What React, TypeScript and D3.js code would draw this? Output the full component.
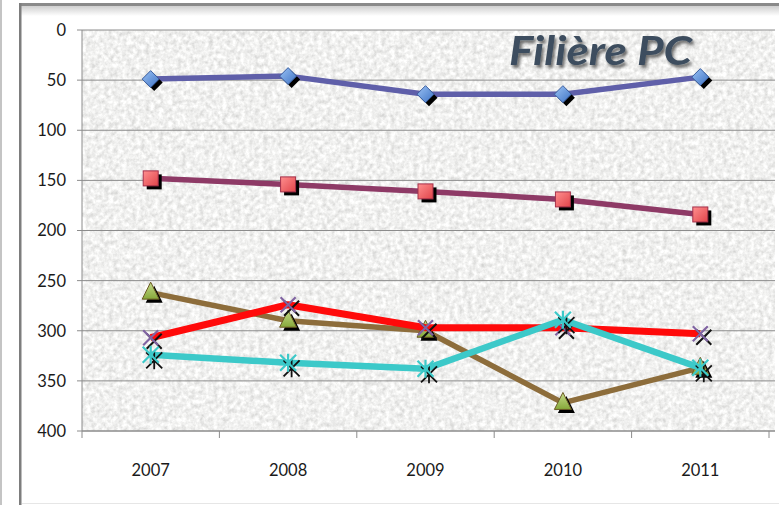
import React from "react";
import * as d3 from "d3";

const years = ["2007", "2008", "2009", "2010", "2011"];
const serieA = [49, 46, 64, 64, 47];
const serieB = [148, 154, 161, 169, 184];
const serieC = [262, 290, 300, 372, 337];
const serieD = [307, 274, 297, 297, 303];
const serieE = [324, 332, 338, 289, 337];
const yTicks = [0, 50, 100, 150, 200, 250, 300, 350, 400];
const title = "Filière PC";

const W = 779;
const H = 505;
const left = 82;
const right = 769;
const top = 30;
const bottom = 431;

type Marker = "diamond" | "square" | "triangle" | "x" | "star";
const series: { values: number[]; line: string; width: number; marker: Marker }[] = [
  { values: serieA, line: "#5F5FA9", width: 5.5, marker: "diamond" },
  { values: serieB, line: "#8E3A66", width: 5.5, marker: "square" },
  { values: serieC, line: "#8D6D3B", width: 5.5, marker: "triangle" },
  { values: serieD, line: "#FF0A0A", width: 7, marker: "x" },
  { values: serieE, line: "#3CC9C9", width: 6.5, marker: "star" },
];

function MarkerShape({ kind, cx, cy }: { kind: Marker; cx: number; cy: number }) {
  const so = 3.5;
  if (kind === "diamond") {
    const r = 8.5;
    const pts = (dx: number, dy: number) =>
      `${cx + dx},${cy - r + dy} ${cx + r + dx},${cy + dy} ${cx + dx},${cy + r + dy} ${cx - r + dx},${cy + dy}`;
    return (
      <g>
        <polygon points={pts(so, so)} fill="#000" />
        <polygon points={pts(0, 0)} fill="url(#gDiamond)" stroke="#3B5E9E" strokeWidth={1} />
      </g>
    );
  }
  if (kind === "square") {
    const s = 15;
    return (
      <g>
        <rect x={cx - s / 2 + so} y={cy - s / 2 + so} width={s} height={s} fill="#000" />
        <rect x={cx - s / 2} y={cy - s / 2} width={s} height={s} fill="url(#gSquare)" stroke="#A3304A" strokeWidth={1} />
      </g>
    );
  }
  if (kind === "triangle") {
    const w = 17;
    const h = 17;
    const pts = (dx: number, dy: number) =>
      `${cx + dx},${cy - h / 2 - 2 + dy} ${cx + w / 2 + dx},${cy + h / 2 - 2 + dy} ${cx - w / 2 + dx},${cy + h / 2 - 2 + dy}`;
    return (
      <g>
        <polygon points={pts(so, so)} fill="#000" />
        <polygon points={pts(0, 0)} fill="url(#gTri)" stroke="#6B5A25" strokeWidth={1} />
      </g>
    );
  }
  if (kind === "x") {
    const r = 7.5;
    const path = (dx: number, dy: number) =>
      `M${cx - r + dx},${cy - r + dy}L${cx + r + dx},${cy + r + dy}M${cx + r + dx},${cy - r + dy}L${cx - r + dx},${cy + r + dy}`;
    return (
      <g>
        <path d={path(so, so)} stroke="#111" strokeWidth={2} fill="none" />
        <path d={path(0, 0)} stroke="#8064A2" strokeWidth={2.2} fill="none" />
      </g>
    );
  }
  const r = 8;
  const path = (dx: number, dy: number) =>
    `M${cx - r + dx},${cy - r + dy}L${cx + r + dx},${cy + r + dy}M${cx + r + dx},${cy - r + dy}L${cx - r + dx},${cy + r + dy}M${cx + dx},${cy - r - 1 + dy}L${cx + dx},${cy + r + 1 + dy}`;
  return (
    <g>
      <path d={path(so, so + 2)} stroke="#111" strokeWidth={1.8} fill="none" />
      <path d={path(0, 0)} stroke="#3CC9C9" strokeWidth={2.2} fill="none" />
    </g>
  );
}

export default function App() {
  const x = d3.scaleBand<string>().domain(years).range([left, right]);
  const y = d3.scaleLinear().domain([0, 400]).range([top, bottom]);
  const cx = (yr: string) => (x(yr) as number) + x.bandwidth() / 2;
  const line = d3
    .line<number>()
    .x((_, i) => cx(years[i]))
    .y((v) => y(v));
  const bounds = [...years.map((yr) => x(yr) as number), right];

  return (
    <svg
      width={W}
      height={H}
      style={{ position: "absolute", left: 0, top: 0, background: "#fff" }}
      fontFamily="Lato, 'Open Sans', sans-serif"
    >
      <defs>
        <filter id="noise" x="0" y="0" width="100%" height="100%">
          <feTurbulence type="fractalNoise" baseFrequency="0.22" numOctaves={3} seed={4} />
          <feColorMatrix
            type="matrix"
            values="0.55 0 0 0 0.6  0.55 0 0 0 0.6  0.55 0 0 0 0.59  0 0 0 0 1"
          />
        </filter>
        <linearGradient id="gDiamond" x1="0" y1="0" x2="1" y2="1">
          <stop offset="0" stopColor="#9CC3F5" />
          <stop offset="1" stopColor="#3D72C4" />
        </linearGradient>
        <linearGradient id="gSquare" x1="0" y1="0" x2="1" y2="1">
          <stop offset="0" stopColor="#FF8F8F" />
          <stop offset="1" stopColor="#E0444A" />
        </linearGradient>
        <linearGradient id="gTri" x1="0" y1="0" x2="0" y2="1">
          <stop offset="0" stopColor="#C6DB8A" />
          <stop offset="1" stopColor="#86A83A" />
        </linearGradient>
        <linearGradient id="topShade" x1="0" y1="0" x2="0" y2="1">
          <stop offset="0" stopColor="#cfcfcf" />
          <stop offset="1" stopColor="#ffffff" />
        </linearGradient>
        <filter id="tshadow" x="-10%" y="-20%" width="130%" height="150%">
          <feGaussianBlur in="SourceAlpha" stdDeviation="1.5" />
          <feOffset dx="2" dy="2.5" result="b" />
          <feComponentTransfer>
            <feFuncA type="linear" slope="0.55" />
          </feComponentTransfer>
          <feMerge>
            <feMergeNode />
            <feMergeNode in="SourceGraphic" />
          </feMerge>
        </filter>
      </defs>

      {/* frame */}
      <rect x={0} y={0} width={2} height={H} fill="#c4c4c4" />
      <rect x={20} y={6} width={W - 20} height={10} fill="url(#topShade)" />
      <rect x={19} y={3} width={W - 19} height={3} fill="#8a8a8a" />
      <rect x={19} y={3} width={2.5} height={H} fill="#7d7d7d" />
      <rect x={22} y={H - 2} width={W - 22} height={1} fill="#e6e6e6" />

      {/* plot background */}
      <rect x={left} y={top} width={775 - left} height={bottom - top} filter="url(#noise)" />

      {/* gridlines */}
      {yTicks.map((t) => (
        <line key={t} x1={left - 5} x2={775} y1={y(t)} y2={y(t)} stroke="#8c8c8c" strokeWidth={1} />
      ))}
      <line x1={left} x2={left} y1={top} y2={bottom} stroke="#8c8c8c" />
      <line x1={left} x2={775} y1={bottom} y2={bottom} stroke="#8c8c8c" />
      {bounds.map((b, i) => (
        <line key={i} x1={b} x2={b} y1={bottom} y2={bottom + 7} stroke="#8c8c8c" />
      ))}

      {/* y labels */}
      {yTicks.map((t) => (
        <text key={t} x={66} y={y(t)} dy="0.36em" textAnchor="end" fontSize={16.5} fill="#1a1a1a">
          {t}
        </text>
      ))}
      {/* x labels */}
      {years.map((yr) => (
        <text key={yr} x={cx(yr)} y={470} dy="0.36em" textAnchor="middle" fontSize={16.5} fill="#1a1a1a">
          {yr}
        </text>
      ))}

      {/* title */}
      <text
        x={509}
        y={65}
        fontSize={40}
        fontWeight="bold"
        fontStyle="italic"
        fill="#3E4E5E"
        textLength={183}
        lengthAdjust="spacingAndGlyphs"
        filter="url(#tshadow)"
      >
        {title}
      </text>

      {/* series */}
      {series.map((s, si) => (
        <g key={si}>
          <path d={line(s.values) as string} fill="none" stroke={s.line} strokeWidth={s.width} strokeLinejoin="round" />
          {s.values.map((v, i) => (
            <MarkerShape key={i} kind={s.marker} cx={cx(years[i])} cy={y(v)} />
          ))}
        </g>
      ))}
    </svg>
  );
}
